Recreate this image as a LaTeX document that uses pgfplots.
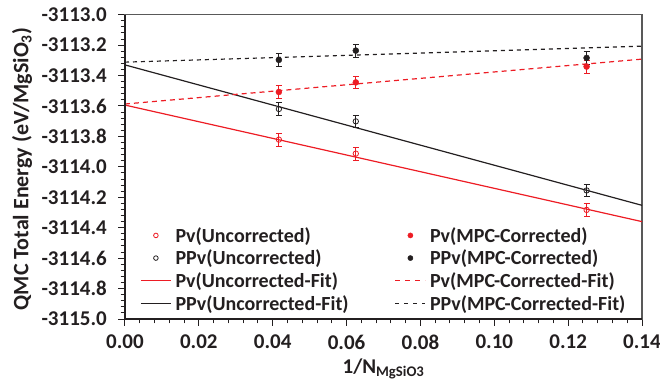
\documentclass[border=0pt]{standalone}
\usepackage{pgfplots}
\pgfplotsset{compat=1.18}
\usepackage{fontspec}
\setmainfont{Carlito}
\definecolor{myred}{RGB}{237,28,36}
\definecolor{mydark}{RGB}{35,31,32}
\begin{document}
\begin{tikzpicture}
\useasboundingbox (-125pt,-66pt) rectangle (535pt,304.3pt+14.7pt);
\begin{axis}[
  scale only axis, width=517pt, height=304.3pt,
  xmin=0, xmax=0.14, ymin=-3115, ymax=-3113,
  xtick={0,0.02,0.04,0.06,0.08,0.10,0.12,0.14},
  ytick={-3115,-3114.8,-3114.6,-3114.4,-3114.2,-3114,-3113.8,-3113.6,-3113.4,-3113.2,-3113},
  minor x tick num=4, minor y tick num=4,
  tick align=outside, tick pos=left,
  major tick length=7pt, minor tick length=4.5pt,
  every tick/.style={mydark, line width=1pt},
  axis line style={black!65, line width=1.1pt},
  /pgf/number format/assume math mode=true,
  ticklabel style={font=\fontsize{21}{24}\selectfont\bfseries, text=mydark, inner sep=0pt},
  xticklabel style={yshift=-9pt, /pgf/number format/.cd, fixed, fixed zerofill, precision=2},
  yticklabel style={xshift=-11pt, /pgf/number format/.cd, fixed, fixed zerofill, precision=1, 1000 sep={}},
  xlabel={1/N\textsubscript{MgSiO3}},
  ylabel={QMC Total Energy (eV/MgSiO\textsubscript{3})},
  every axis x label/.style={at={(axis description cs:0.5,-0.1775)}, anchor=base, inner sep=0pt,
    font=\fontsize{21}{24}\selectfont\bfseries, text=mydark},
  every axis y label/.style={at={(axis description cs:-0.199,0.493)}, anchor=center, rotate=90, inner sep=0pt,
    font=\fontsize{22}{24}\selectfont\bfseries, text=mydark},
  legend columns=2,
  legend cell align=left,
  legend image code/.code={\draw[mark repeat=2,mark phase=2,#1] plot coordinates {(0pt,0pt)(15pt,0pt)(30pt,0pt)};},
  legend style={draw=none, fill=none, inner sep=0pt, at={(axis description cs:0.029,0.3087)}, anchor=north west,
    font=\fontsize{20}{22}\selectfont\bfseries, text=mydark, row sep=2.3pt,
    /tikz/every odd column/.append style={column sep=2pt},
    /tikz/every even column/.append style={column sep=44pt}},
]
\coordinate (tl) at (rel axis cs:0,1);
\coordinate (bl) at (rel axis cs:0,0);
\coordinate (br) at (rel axis cs:1,0);
% legend entries
\addlegendimage{only marks, mark=o, mark size=2.3pt, myred, mark options={line width=0.8pt}}
\addlegendentry{Pv(Uncorrected)}
\addlegendimage{only marks, mark=*, mark size=2.6pt, myred}
\addlegendentry{Pv(MPC-Corrected)}
\addlegendimage{only marks, mark=o, mark size=2.3pt, mydark, mark options={line width=0.8pt}}
\addlegendentry{PPv(Uncorrected)}
\addlegendimage{only marks, mark=*, mark size=2.6pt, mydark}
\addlegendentry{PPv(MPC-Corrected)}
\addlegendimage{draw=myred, line width=1.4pt}
\addlegendentry{Pv(Uncorrected-Fit)}
\addlegendimage{draw=myred, line width=1.4pt, dash pattern=on 5pt off 5pt}
\addlegendentry{Pv(MPC-Corrected-Fit)}
\addlegendimage{draw=mydark, line width=1.3pt}
\addlegendentry{PPv(Uncorrected-Fit)}
\addlegendimage{draw=mydark, line width=1.3pt, dash pattern=on 4pt off 5pt}
\addlegendentry{PPv(MPC-Corrected-Fit)}
% fits
\addplot[forget plot, myred, line width=1.2pt] coordinates {(0,-3113.594) (0.14,-3114.360)};
\addplot[forget plot, mydark, line width=1.2pt] coordinates {(0,-3113.330) (0.14,-3114.253)};
\addplot[forget plot, myred, line width=1.2pt, dash pattern=on 5pt off 4pt] coordinates {(0,-3113.587) (0.14,-3113.292)};
\addplot[forget plot, mydark, line width=1.2pt, dash pattern=on 4pt off 4pt] coordinates {(0,-3113.312) (0.14,-3113.207)};
% data
\addplot[forget plot, myred, only marks, mark=o, mark size=2.7pt, mark options={line width=0.8pt},
  error bars/.cd, y dir=both, y explicit, error bar style={line width=0.8pt}, error mark options={rotate=90, mark size=3pt, line width=0.8pt}]
  coordinates {(0.041667,-3113.821) +- (0,0.042) (0.0625,-3113.913) +- (0,0.042) (0.125,-3114.283) +- (0,0.042)};
\addplot[forget plot, mydark, only marks, mark=o, mark size=2.7pt, mark options={line width=0.8pt},
  error bars/.cd, y dir=both, y explicit, error bar style={line width=0.8pt}, error mark options={rotate=90, mark size=3pt, line width=0.8pt}]
  coordinates {(0.041667,-3113.620) +- (0,0.042) (0.0625,-3113.701) +- (0,0.042) (0.125,-3114.155) +- (0,0.042)};
\addplot[forget plot, myred, only marks, mark=*, mark size=3pt,
  error bars/.cd, y dir=both, y explicit, error bar style={line width=0.8pt}, error mark options={rotate=90, mark size=3pt, line width=0.8pt}]
  coordinates {(0.041667,-3113.508) +- (0,0.042) (0.0625,-3113.445) +- (0,0.042) (0.125,-3113.341) +- (0,0.042)};
\addplot[forget plot, mydark, only marks, mark=*, mark size=3pt,
  error bars/.cd, y dir=both, y explicit, error bar style={line width=0.8pt}, error mark options={rotate=90, mark size=3pt, line width=0.8pt}]
  coordinates {(0.041667,-3113.297) +- (0,0.042) (0.0625,-3113.236) +- (0,0.042) (0.125,-3113.284) +- (0,0.042)};
\end{axis}
\draw[mydark, line width=1.5pt] (tl) -- (bl) -- (br);
\end{tikzpicture}
\end{document}
